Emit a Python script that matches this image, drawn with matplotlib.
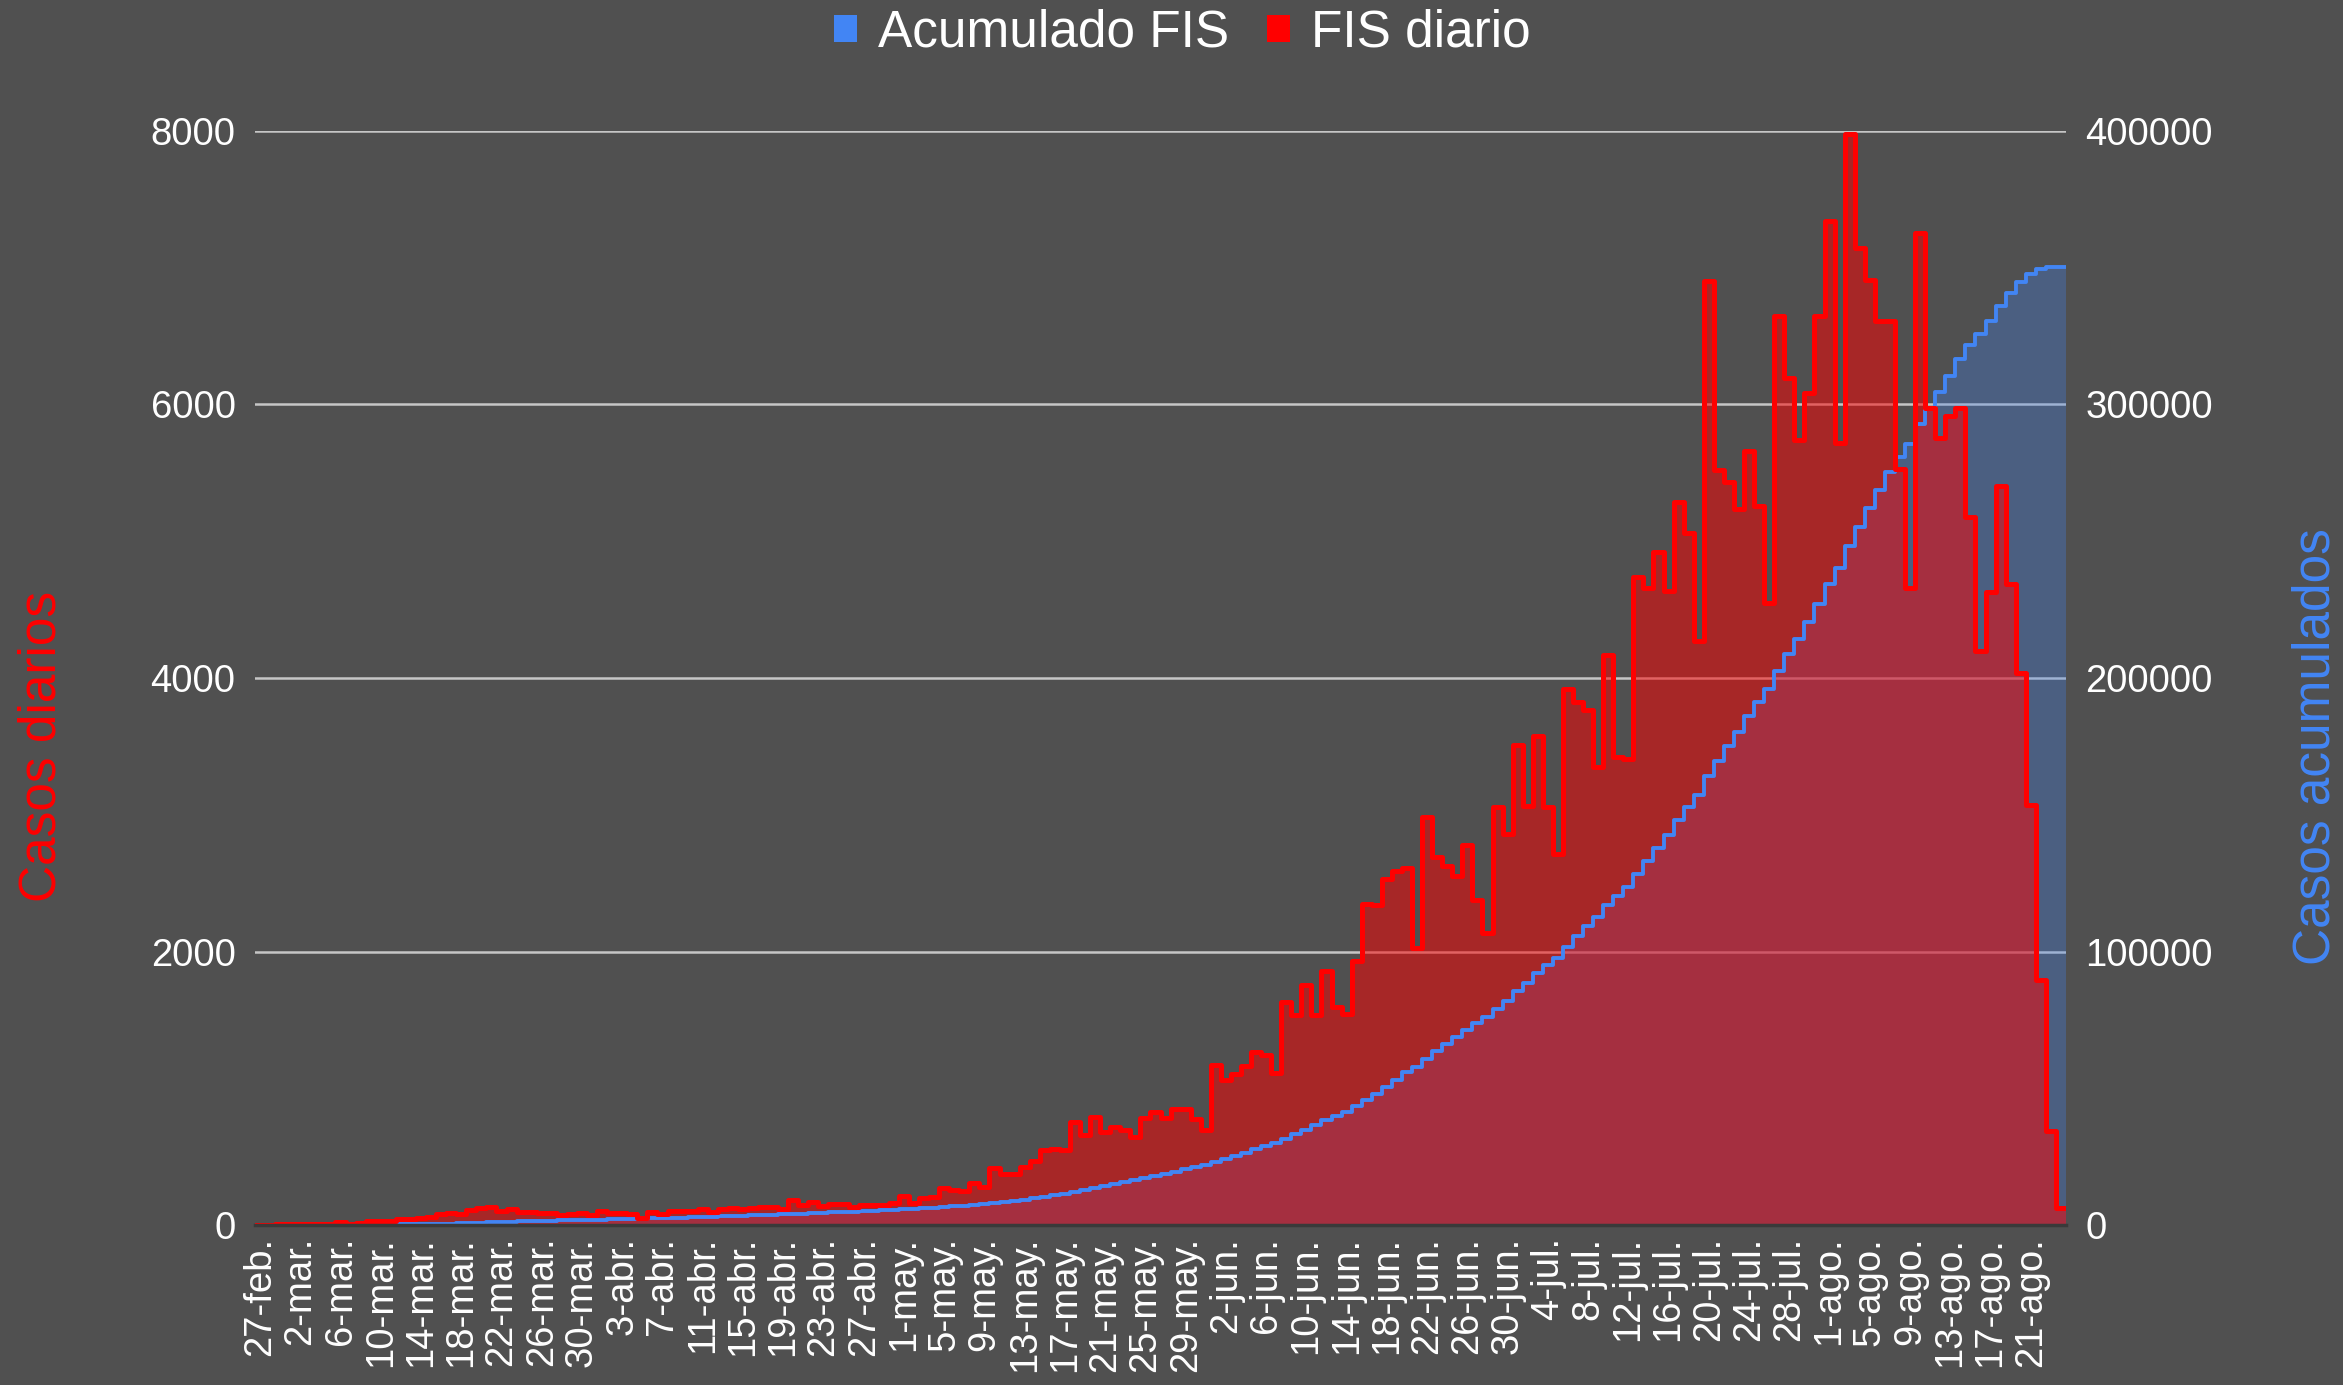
import numpy as np
import matplotlib
matplotlib.use("Agg")
import matplotlib.pyplot as plt
from matplotlib.patches import Patch

# ---------------- data ----------------
tick_labels = [
    "27-feb.", "2-mar.", "6-mar.", "10-mar.", "14-mar.", "18-mar.", "22-mar.", "26-mar.", "30-mar.",
    "3-abr.", "7-abr.", "11-abr.", "15-abr.", "19-abr.", "23-abr.", "27-abr.",
    "1-may.", "5-may.", "9-may.", "13-may.", "17-may.", "21-may.", "25-may.", "29-may.",
    "2-jun.", "6-jun.", "10-jun.", "14-jun.", "18-jun.", "22-jun.", "26-jun.", "30-jun.",
    "4-jul.", "8-jul.", "12-jul.", "16-jul.", "20-jul.", "24-jul.", "28-jul.",
    "1-ago.", "5-ago.", "9-ago.", "13-ago.", "17-ago.", "21-ago.",
]
tick_every = 4  # one label every 4 days, starting at 27-feb

# daily FIS cases, 27-feb .. 24-ago (180 days)
daily = [
    2, 3, 5, 8, 8, 10, 10, 10, 22, 5,
    17, 27, 27, 32, 42, 42, 54, 61, 78, 85,
    78, 110, 124, 134, 102, 117, 97, 95, 90, 85,
    71, 80, 90, 73, 102, 88, 85, 82, 49, 93,
    80, 105, 105, 105, 119, 95, 117, 122, 115, 122,
    134, 129, 115, 183, 144, 166, 137, 154, 154, 134,
    146, 146, 146, 163, 212, 158, 195, 202, 268, 256,
    251, 305, 281, 415, 373, 373, 427, 468, 545, 555,
    549, 756, 658, 788, 683, 719, 695, 641, 780, 824,
    780, 846, 849, 773, 695, 1170, 1061, 1105, 1166, 1268,
    1244, 1110, 1634, 1536, 1756, 1536, 1861, 1592, 1541, 1933,
    2351, 2341, 2528, 2589, 2613, 2028, 2987, 2691, 2623, 2555,
    2782, 2378, 2136, 3058, 2861, 3507, 3065, 3575, 3055, 2714,
    3922, 3823, 3769, 3347, 4169, 3422, 3405, 4736, 4660, 4924,
    4639, 5289, 5059, 4274, 6905, 5520, 5436, 5239, 5659, 5260,
    4547, 6645, 6192, 5743, 6087, 6645, 7345, 5722, 7980, 7147,
    6909, 6612, 6612, 5528, 4655, 7253, 5978, 5756, 5914, 5978,
    5174, 4195, 4629, 5401, 4687, 4036, 3068, 1788, 688, 122,
]

left_ticks = [0, 2000, 4000, 6000, 8000]
right_ticks = [0, 100000, 200000, 300000, 400000]
series_names = ["Acumulado FIS", "FIS diario"]
axis_titles = ["Casos diarios", "Casos acumulados"]

# ---------------- style ----------------
BG = "#505050"
RED = "#ff0000"
BLUE = "#4285f4"
GRID = "#c6c6c6"
W, H = 2343, 1385

plt.rcParams["font.family"] = ["Liberation Sans", "DejaVu Sans"]

fig = plt.figure(figsize=(W / 100, H / 100), dpi=100, facecolor=BG)
ax = fig.add_axes([255 / W, 1 - 1225 / H, 1811 / W, (1225 - 131) / H])
ax.set_facecolor(BG)
ax2 = ax.twinx()

vals = np.asarray(daily, dtype=float)
n = len(vals)
edges = np.arange(n + 1)
vstep = np.append(vals, vals[-1])
cum = np.cumsum(vals)            # accumulated series = running total of the daily series
cstep = np.append(cum, cum[-1])

ax.set_xlim(0, n)
ax.set_ylim(left_ticks[0], left_ticks[-1])
ax2.set_ylim(right_ticks[0], right_ticks[-1])

# layering: blue fill < red fill < blue line < red line (blue series uses the right-axis scale)
ax.fill_between(edges, cstep, step="post", color=BLUE, alpha=0.3, lw=0,
                transform=ax2.transData, zorder=1)
ax.fill_between(edges, vstep, step="post", color=RED, alpha=0.5, lw=0, zorder=2)
ax.step(edges, cstep, where="post", color=BLUE, lw=2.8, transform=ax2.transData,
        zorder=3, solid_joinstyle="round", solid_capstyle="round")
ax.step(edges, vstep, where="post", color=RED, lw=3.6, zorder=4,
        solid_joinstyle="round", solid_capstyle="round")

ax.set_xlim(0, n)
ax.set_ylim(left_ticks[0], left_ticks[-1])
ax2.set_ylim(right_ticks[0], right_ticks[-1])

# grid & spines
ax.set_yticks(left_ticks)
ax.set_yticklabels([str(v) for v in left_ticks])
ax.yaxis.grid(True, color=GRID, lw=1.8)
ax.set_axisbelow(True)
for name, sp in ax.spines.items():
    sp.set_visible(name == "bottom")
ax.spines["bottom"].set_color("#3a3a3a")
ax.spines["bottom"].set_linewidth(2.5)
ax.spines["bottom"].set_zorder(6)
for sp in ax2.spines.values():
    sp.set_visible(False)

ax2.set_yticks(right_ticks)
ax2.set_yticklabels([str(v) for v in right_ticks])

# x ticks
xt = np.arange(0, n, tick_every)[:len(tick_labels)] + 0.5
ax.set_xticks(xt)
ax.set_xticklabels(tick_labels, rotation=90)

ax.tick_params(axis="x", length=0, pad=8.5, labelsize=27.5, labelcolor="white")
ax.tick_params(axis="y", length=0, pad=14, labelsize=27.5, labelcolor="white")
ax2.tick_params(axis="y", length=0, pad=14, labelsize=27.5, labelcolor="white")

# axis titles
ax.set_ylabel(axis_titles[0], color=RED, fontsize=37)
ax.yaxis.label.set_verticalalignment("center")
ax.yaxis.set_label_coords(-0.1176, 0.437)
ax2.set_ylabel(axis_titles[1], color=BLUE, fontsize=37, rotation=90)
ax2.yaxis.label.set_verticalalignment("center")
ax2.yaxis.set_label_coords(1.138, 0.437)

# legend
handles = [Patch(facecolor=BLUE, edgecolor="none"), Patch(facecolor=RED, edgecolor="none")]
fig.legend(handles=handles, labels=series_names, loc="center",
           bbox_to_anchor=(0.5046, 0.976), ncol=2, frameon=False, fontsize=37,
           labelcolor="white", handlelength=0.45, handleheight=0.45,
           handletextpad=0.4, columnspacing=0.75, borderpad=0, borderaxespad=0)

fig.savefig("out.png", dpi=100, facecolor=BG)
